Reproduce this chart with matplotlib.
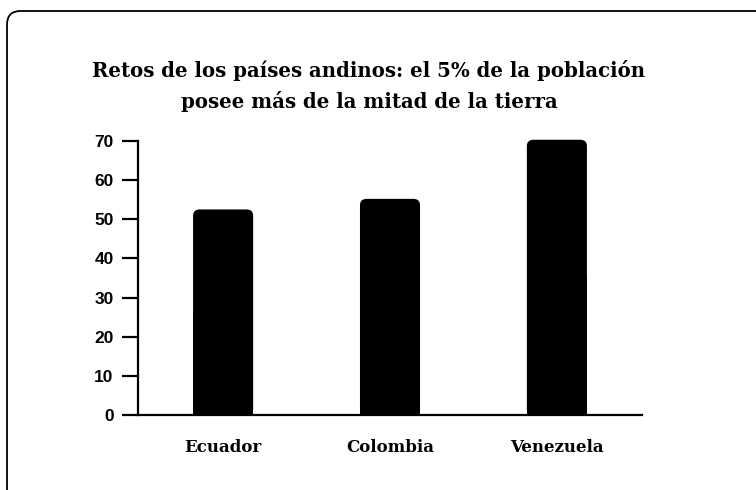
import matplotlib
matplotlib.use("Agg")
import matplotlib.pyplot as plt
from matplotlib.patches import FancyBboxPatch, Rectangle

# Datos
paises = ["Ecuador", "Colombia", "Venezuela"]
valores = [52.5, 55.2, 70.3]
yticks = [0, 10, 20, 30, 40, 50, 60, 70]
titulo = "Retos de los países andinos: el 5% de la población\nposee más de la mitad de la tierra"

W, H = 756, 490
fig = plt.figure(figsize=(W / 100, H / 100), dpi=100)
fig.patch.set_facecolor("white")

# marco redondeado (sale por la derecha y por abajo)
marco = FancyBboxPatch((7 / W, -0.2), 1.2, 1.2 - 11 / H,
                       boxstyle="round,pad=0,rounding_size=0.018",
                       transform=fig.transFigure, fill=False,
                       edgecolor="black", linewidth=1.3, mutation_aspect=W / H)
fig.patches.append(marco)

fig.text(369 / W, 1 - 86 / H, titulo, ha="center", va="center",
         family="DejaVu Serif", fontweight="bold", fontsize=14.2,
         linespacing=1.55)

ax = fig.add_axes([138 / W, 1 - 415 / H, (642 - 138) / W, (415 - 137) / H])
x = list(range(len(paises)))
barras = ax.bar(x, valores, width=0.36, color="black")

# esquinas superiores redondeadas
ry = 1.6
rx = 0.04
for b in barras:
    b.set_visible(False)
    x0, w, h = b.get_x(), b.get_width(), b.get_height()
    ax.add_patch(FancyBboxPatch((x0, 0), w, h,
                                boxstyle=f"round,pad=0,rounding_size={rx}",
                                mutation_aspect=ry / rx,
                                facecolor="black", edgecolor="none"))
    ax.add_patch(Rectangle((x0, 0), w, h / 2, facecolor="black",
                           edgecolor="none"))

ax.set_xlim(-0.51, 2.51)
ax.set_ylim(0, 71)
ax.spines["top"].set_visible(False)
ax.spines["right"].set_visible(False)
ax.spines["left"].set_bounds(0, 70)
ax.spines["left"].set_linewidth(1.6)
ax.spines["bottom"].set_linewidth(1.6)

ax.set_yticks(yticks)
ax.set_yticklabels([str(t) for t in yticks], family="Liberation Sans",
                   fontweight="bold", fontsize=12.5)
ax.tick_params(axis="y", length=11.5, width=1.6, pad=6)
ax.set_xticks(x)
ax.set_xticklabels(paises, family="DejaVu Serif", fontweight="bold", fontsize=12)
ax.tick_params(axis="x", length=0, pad=17)

fig.savefig("out.png", dpi=100)
